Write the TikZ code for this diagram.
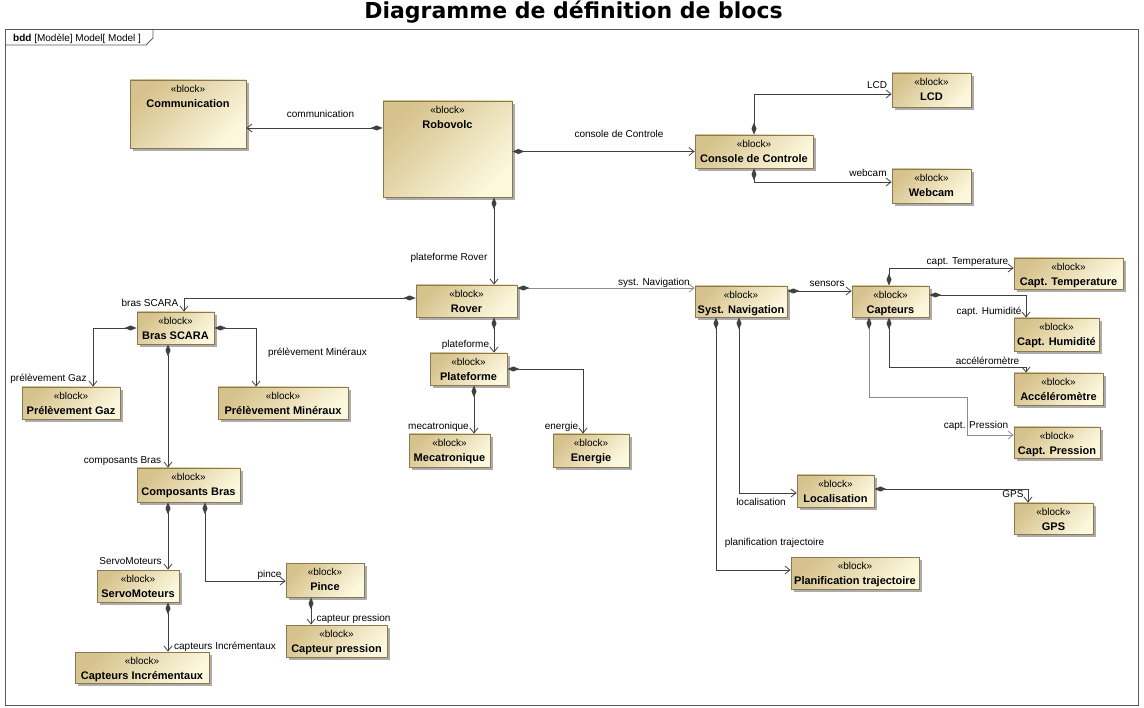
\documentclass[tikz,border=0pt]{standalone}
\usepackage{fontspec}
\setmainfont{Liberation Sans}
\newfontfamily\ttlfont{DejaVu Sans}
\usetikzlibrary{arrows.meta,shadows}

\definecolor{tanA}{RGB}{214,194,140}
\definecolor{creamB}{RGB}{252,248,222}
\definecolor{bordC}{RGB}{140,120,78}
\definecolor{lineC}{RGB}{64,64,64}
\definecolor{lineG}{RGB}{140,140,140}
\definecolor{shadC}{RGB}{172,172,172}
\newcommand{\bnm}[1]{{\fontsize{11}{13}\selectfont\bfseries #1}}

\begin{document}
\begin{tikzpicture}[x=1pt,y=-1pt,line cap=round,
    blk/.style={draw=bordC,line width=0.8pt,top color=tanA,bottom color=creamB,shading angle=45,
      general shadow={fill=shadC,shadow xshift=3pt,shadow yshift=-3pt},inner sep=0pt},
    btxt/.style={anchor=north,yshift=-5pt,align=center,inner sep=0pt,font=\fontsize{10}{15.5}\selectfont},
    comp/.style={draw=lineC,line width=0.8pt,{Diamond[length=12pt,width=5pt,color=lineC]}-{Straight Barb[length=5pt,width=8pt]}},
    lab/.style={anchor=base,inner sep=0pt,font=\fontsize{10}{12}\selectfont}]
    \useasboundingbox (0,0) rectangle (1144,708);

    % title and frame
    \node[anchor=base,inner sep=0pt,font=\ttlfont\bfseries\fontsize{22}{26}\selectfont] (title) at (573.5,19) {Diagramme de définition de blocs};
    \draw[black!65,line width=0.8pt] (5,29) rectangle (1138,705);
    \draw[black!65,line width=0.8pt] (5,45) -- (146,45) -- (153,38) -- (153,29);
    \node[lab,anchor=base west] (tab) at (13,42) {\textbf{bdd} [Modèle] Model[ Model ]};

    % blocks
    \node[blk,minimum width=116pt,minimum height=68pt,label={[btxt]north:«block»\\\bnm{Communication}}] (comm) at (188,114) {};
    \node[blk,minimum width=129pt,minimum height=96pt,label={[btxt]north:«block»\\\bnm{Robovolc}}] (robo) at (447.5,149) {};
    \node[blk,minimum width=118pt,minimum height=33pt,label={[btxt]north:«block»\\\bnm{Console de Controle}}] (con) at (754,151.5) {};
    \node[blk,minimum width=79pt,minimum height=34pt,label={[btxt]north:«block»\\\bnm{LCD}}] (lcd) at (931.5,90) {};
    \node[blk,minimum width=79pt,minimum height=34pt,label={[btxt]north:«block»\\\bnm{Webcam}}] (web) at (931.5,186) {};
    \node[blk,minimum width=101pt,minimum height=32pt,label={[btxt]north:«block»\\\bnm{Rover}}] (rover) at (466.5,301) {};
    \node[blk,minimum width=77pt,minimum height=32pt,label={[btxt]north:«block»\\\bnm{Plateforme}}] (plat) at (468.5,369) {};
    \node[blk,minimum width=81pt,minimum height=33pt,label={[btxt]north:«block»\\\bnm{Mecatronique}}] (meca) at (449.5,450.5) {};
    \node[blk,minimum width=76pt,minimum height=33pt,label={[btxt]north:«block»\\\bnm{Energie}}] (ener) at (591,450.5) {};
    \node[blk,minimum width=77pt,minimum height=32pt,label={[btxt]north:«block»\\\bnm{Bras SCARA}}] (bras) at (175.5,328) {};
    \node[blk,minimum width=98pt,minimum height=32pt,label={[btxt]north:«block»\\\bnm{Prélèvement Gaz}}] (gaz) at (71,403) {};
    \node[blk,minimum width=130pt,minimum height=32pt,label={[btxt]north:«block»\\\bnm{Prélèvement Minéraux}}] (mine) at (283,403) {};
    \node[blk,minimum width=103pt,minimum height=34pt,label={[btxt]north:«block»\\\bnm{Composants Bras}}] (compb) at (188.5,485) {};
    \node[blk,minimum width=82pt,minimum height=32pt,label={[btxt]north:«block»\\\bnm{ServoMoteurs}}] (servo) at (138,586) {};
    \node[blk,minimum width=78pt,minimum height=34pt,label={[btxt]north:«block»\\\bnm{Pince}}] (pince) at (325,580) {};
    \node[blk,minimum width=101pt,minimum height=32pt,label={[btxt]north:«block»\\\bnm{Capteur pression}}] (cpres) at (336.5,641) {};
    \node[blk,minimum width=134pt,minimum height=31pt,label={[btxt]north:«block»\\\bnm{Capteurs Incrémentaux}}] (cinc) at (142,667.5) {};
    \node[blk,minimum width=92pt,minimum height=31pt,label={[btxt]north:«block»\\\bnm{Syst. Navigation}}] (nav) at (741,301.5) {};
    \node[blk,minimum width=77pt,minimum height=31pt,label={[btxt]north:«block»\\\bnm{Capteurs}}] (capt) at (890.5,301.5) {};
    \node[blk,minimum width=109pt,minimum height=31pt,label={[btxt]north:«block»\\\bnm{Capt. Temperature}}] (ctemp) at (1068.5,273.5) {};
    \node[blk,minimum width=85pt,minimum height=33pt,label={[btxt]north:«block»\\\bnm{Capt. Humidité}}] (chum) at (1056.5,334.5) {};
    \node[blk,minimum width=89pt,minimum height=32pt,label={[btxt]north:«block»\\\bnm{Accéléromètre}}] (acc) at (1058.5,389) {};
    \node[blk,minimum width=86pt,minimum height=31pt,label={[btxt]north:«block»\\\bnm{Capt. Pression}}] (cpr) at (1057,442.5) {};
    \node[blk,minimum width=77pt,minimum height=32pt,label={[btxt]north:«block»\\\bnm{Localisation}}] (loc) at (835.5,491) {};
    \node[blk,minimum width=79pt,minimum height=31pt,label={[btxt]north:«block»\\\bnm{GPS}}] (gps) at (1053.5,518.5) {};
    \node[blk,minimum width=128pt,minimum height=32pt,label={[btxt]north:«block»\\\bnm{Planification trajectoire}}] (plan) at (855,573) {};

    % compositions
    \draw[comp] ([yshift=21pt]robo.west) -- ([yshift=-14pt]comm.east);
    \draw[comp] (robo.east |- con.west) -- (con.west);
    \draw[comp] (con.north) |- ([yshift=-4pt]lcd.west);
    \draw[comp] (con.south) |- ([yshift=4pt]web.west);
    \draw[comp] ([xshift=46.5pt]robo.south) -- ([xshift=46.5pt]robo.south |- rover.north);
    \draw[comp] ([yshift=3pt]rover.west) -| ([xshift=8.5pt]bras.north);
    \draw[comp,draw=lineG] ([yshift=13pt]rover.east) -- ([yshift=13pt]rover.east -| nav.west);
    \draw[comp] ([xshift=27.5pt]rover.south) -- ([xshift=27.5pt]rover.south |- plat.north);
    \draw[comp] ([xshift=5.5pt]plat.south) -- ([xshift=5.5pt]plat.south |- meca.north);
    \draw[comp] (plat.east) -| ([xshift=-8pt]ener.north);
    \draw[comp] (bras.west) -| ([xshift=22pt]gaz.north);
    \draw[comp] (bras.east) -| ([xshift=-27pt]mine.north);
    \draw[comp] ([xshift=-7.5pt]bras.south) -- ([xshift=-7.5pt]bras.south |- compb.north);
    \draw[comp] ([xshift=-20.5pt]compb.south) -- ([xshift=-20.5pt]compb.south |- servo.north);
    \draw[comp] ([xshift=16.5pt]compb.south) |- ([yshift=-1pt]pince.west);
    \draw[comp] ([xshift=-14pt]pince.south) -- ([xshift=-14pt]pince.south |- cpres.north);
    \draw[comp] ([xshift=30pt]servo.south) -- ([xshift=30pt]servo.south |- cinc.north);
    \draw[comp] ([yshift=10.5pt]nav.east) -- ([yshift=10.5pt]nav.east -| capt.west);
    \draw[comp] ([xshift=-1.5pt]capt.north) |- ([yshift=5.5pt]ctemp.west);
    \draw[comp] ([yshift=6.5pt]capt.east) -| ([xshift=-30.5pt]chum.north);
    \draw[comp] ([xshift=-1.5pt]capt.south) |- ([xshift=-32.5pt,yshift=5pt]acc.north) -- ([xshift=-32.5pt]acc.north);
    \coordinate (prbend) at (967,397);
    \draw[comp,draw=lineG] ([xshift=-21.5pt]capt.south) |- (prbend) |- ([yshift=7.5pt]cpr.west);
    \draw[comp] ([xshift=-2pt]nav.south) |- ([yshift=-2pt]loc.west);
    \draw[comp] ([xshift=-25pt]nav.south) |- ([yshift=3pt]plan.west);
    \draw[comp] ([yshift=2pt]loc.east) -| ([xshift=-25.5pt]gps.north);

    % role names
    \node[lab] (l-comm) at (320.5,118) {communication};
    \node[lab] (l-con) at (619,138) {console de Controle};
    \node[lab] (l-lcd) at (877,89) {LCD};
    \node[lab] (l-web) at (868,177) {webcam};
    \node[lab] (l-rover) at (449,261) {plateforme Rover};
    \node[lab] (l-nav) at (654,286) {syst. Navigation};
    \node[lab] (l-sens) at (827,287) {sensors};
    \node[lab] (l-temp) at (967.5,265) {capt. Temperature};
    \node[lab] (l-hum) at (989,315) {capt. Humidité};
    \node[lab] (l-acc) at (987.5,365) {accéléromètre};
    \node[lab] (l-pr) at (976,429) {capt. Pression};
    \node[lab] (l-bras) at (150,307) {bras SCARA};
    \node[lab] (l-gaz) at (48.5,382) {prélèvement Gaz};
    \node[lab] (l-mine) at (317.5,356) {prélèvement Minéraux};
    \node[lab] (l-compb) at (122.5,464) {composants Bras};
    \node[lab] (l-plat) at (465.5,348) {plateforme};
    \node[lab] (l-meca) at (438.5,430) {mecatronique};
    \node[lab] (l-ener) at (561.5,430) {energie};
    \node[lab] (l-servo) at (130.5,565) {ServoMoteurs};
    \node[lab] (l-pince) at (269.5,577) {pince};
    \node[lab] (l-cpres) at (353.5,621) {capteur pression};
    \node[lab] (l-cinc) at (225,649) {capteurs Incrémentaux};
    \node[lab] (l-loc) at (761,506) {localisation};
    \node[lab] (l-plan) at (774.5,546) {planification trajectoire};
    \node[lab] (l-gps) at (1013,498) {GPS};
\end{tikzpicture}
\end{document}
